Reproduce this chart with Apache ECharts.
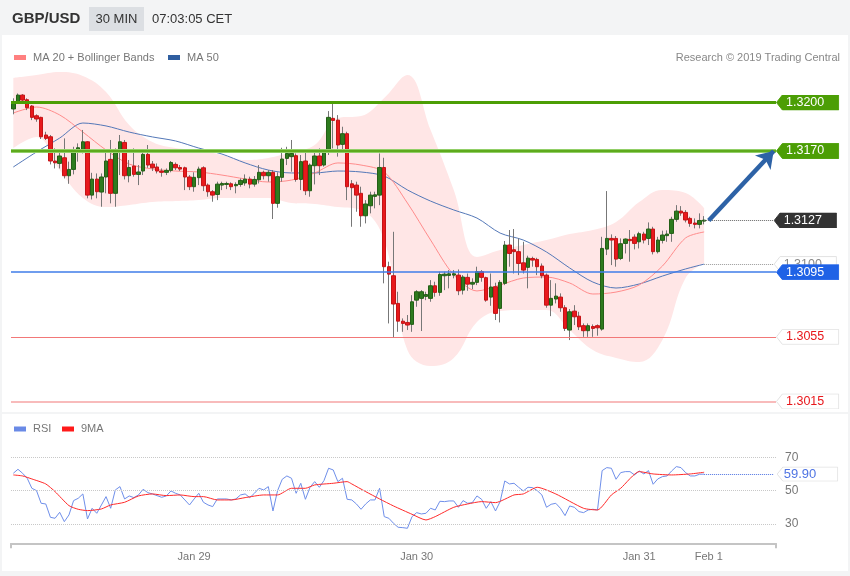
<!DOCTYPE html>
<html><head><meta charset="utf-8">
<script src="https://cdn.jsdelivr.net/npm/echarts@6/dist/echarts.min.js"></script>
<style>html,body{margin:0;padding:0;background:#f3f4f5;}#c{width:850px;height:576px;}</style>
</head><body><div id="c"></div>
<script>
// ---------- DATA ----------
const categories = Array.from({length: 165}, (_, i) => 'b' + i);
const tickLabels = {39: 'Jan 29', 87: 'Jan 30', 135: 'Jan 31', 150: 'Feb 1'};

const opens = [1.31960,1.32005,1.32046,1.32017,1.31978,1.31918,1.31908,1.31799,1.31788,1.31638,
 1.31623,1.31658,1.31547,1.31586,1.31695,1.31706,1.31757,1.31427,1.31526,1.31446,
 1.31539,1.31648,1.31438,1.31706,1.31753,1.31547,1.31607,1.31555,1.31576,1.31679,
 1.31619,1.31601,1.31576,1.31568,1.31580,1.31617,1.31598,1.31596,1.31539,1.31479,
 1.31535,1.31596,1.31489,1.31448,1.31431,1.31489,1.31493,1.31497,1.31485,1.31493,
 1.31502,1.31526,1.31495,1.31522,1.31568,1.31547,1.31568,1.31376,1.31537,1.31654,
 1.31665,1.31671,1.31524,1.31638,1.31454,1.31609,1.31669,1.31613,1.31695,1.31902,
 1.31891,1.31741,1.31807,1.31497,1.31489,1.31438,1.31299,1.31361,1.31419,1.31427,
 1.31598,1.30984,1.30928,1.30757,1.30647,1.30639,1.30627,1.30777,1.30788,1.30800,
 1.30788,1.30866,1.30825,1.30928,1.30930,1.30932,1.30932,1.30839,1.30918,1.30876,
 1.30887,1.30953,1.30916,1.30796,1.30860,1.30726,1.30881,1.31118,1.31089,1.31077,
 1.31008,1.30980,1.31035,1.31029,1.30988,1.30932,1.30746,1.30784,1.30796,1.30730,
 1.30592,1.30709,1.30678,1.30619,1.30588,1.30614,1.30619,1.30598,1.31093,1.31159,
 1.31159,1.31035,1.31128,1.31153,1.31167,1.31138,1.31186,1.31159,1.31217,1.31077,
 1.31147,1.31176,1.31190,1.31277,1.31328,1.31320,1.31283,1.31254,1.31246,1.31266];
const closes = [1.31995,1.32046,1.32015,1.31968,1.31908,1.31898,1.31788,1.31778,1.31638,1.31627,
 1.31669,1.31547,1.31586,1.31695,1.31720,1.31757,1.31427,1.31526,1.31448,1.31539,
 1.31638,1.31438,1.31695,1.31757,1.31547,1.31598,1.31555,1.31570,1.31679,1.31613,
 1.31596,1.31576,1.31568,1.31580,1.31629,1.31596,1.31588,1.31539,1.31479,1.31537,
 1.31588,1.31485,1.31448,1.31427,1.31495,1.31499,1.31499,1.31479,1.31493,1.31518,
 1.31526,1.31495,1.31524,1.31568,1.31547,1.31568,1.31376,1.31541,1.31650,1.31685,
 1.31685,1.31524,1.31634,1.31454,1.31613,1.31669,1.31609,1.31695,1.31908,1.31889,
 1.31737,1.31807,1.31479,1.31473,1.31427,1.31299,1.31372,1.31427,1.31429,1.31598,
 1.30984,1.30938,1.30753,1.30647,1.30633,1.30623,1.30767,1.30829,1.30829,1.30812,
 1.30866,1.30825,1.30936,1.30938,1.30940,1.30940,1.30835,1.30920,1.30876,1.30887,
 1.30953,1.30918,1.30777,1.30858,1.30695,1.30887,1.31118,1.31066,1.31077,1.31004,
 1.30963,1.31037,1.31025,1.30984,1.30928,1.30746,1.30788,1.30802,1.30730,1.30602,
 1.30705,1.30674,1.30612,1.30588,1.30619,1.30602,1.30606,1.31097,1.31159,1.31149,
 1.31031,1.31126,1.31155,1.31145,1.31128,1.31188,1.31149,1.31217,1.31077,1.31149,
 1.31180,1.31186,1.31277,1.31328,1.31316,1.31273,1.31252,1.31246,1.31270,1.31272];
const lows = [1.31927,1.31995,1.32009,1.31953,1.31891,1.31881,1.31774,1.31768,1.31617,1.31592,
 1.31592,1.31530,1.31497,1.31555,1.31634,1.31685,1.31407,1.31400,1.31407,1.31355,
 1.31438,1.31376,1.31355,1.31551,1.31524,1.31506,1.31541,1.31489,1.31551,1.31596,
 1.31576,1.31561,1.31541,1.31551,1.31568,1.31582,1.31576,1.31458,1.31458,1.31448,
 1.31489,1.31452,1.31417,1.31386,1.31396,1.31458,1.31464,1.31458,1.31438,1.31479,
 1.31485,1.31469,1.31479,1.31499,1.31524,1.31510,1.31279,1.31349,1.31510,1.31613,
 1.31572,1.31510,1.31458,1.31427,1.31417,1.31493,1.31551,1.31603,1.31675,1.31716,
 1.31665,1.31706,1.31396,1.31231,1.31324,1.31231,1.31252,1.31314,1.31345,1.31365,
 1.30881,1.30633,1.30544,1.30581,1.30581,1.30592,1.30581,1.30736,1.30586,1.30777,
 1.30767,1.30798,1.30804,1.30839,1.30850,1.30912,1.30808,1.30812,1.30835,1.30845,
 1.30870,1.30891,1.30767,1.30742,1.30654,1.30639,1.30870,1.30984,1.30942,1.30932,
 1.30942,1.30850,1.30984,1.30932,1.30912,1.30730,1.30678,1.30757,1.30705,1.30586,
 1.30530,1.30623,1.30592,1.30550,1.30550,1.30550,1.30557,1.30588,1.31056,1.30994,
 1.30984,1.31025,1.31066,1.31015,1.31091,1.31097,1.31128,1.31118,1.31060,1.31066,
 1.31128,1.31138,1.31138,1.31262,1.31299,1.31258,1.31231,1.31221,1.31221,1.31246];
const highs = [1.32026,1.32056,1.32052,1.32026,1.31984,1.31927,1.31912,1.31819,1.31799,1.31716,
 1.31706,1.31778,1.31634,1.31726,1.31747,1.31830,1.31761,1.31565,1.31561,1.31561,
 1.31695,1.31768,1.31716,1.31799,1.31768,1.31644,1.31716,1.31613,1.31695,1.31737,
 1.31638,1.31623,1.31592,1.31592,1.31638,1.31629,1.31613,1.31603,1.31551,1.31568,
 1.31603,1.31605,1.31499,1.31458,1.31510,1.31510,1.31510,1.31506,1.31506,1.31530,
 1.31555,1.31541,1.31545,1.31613,1.31578,1.31582,1.31582,1.31568,1.31720,1.31726,
 1.31768,1.31685,1.31675,1.31691,1.31623,1.31695,1.31716,1.31706,1.31947,1.31995,
 1.31922,1.31850,1.31819,1.31520,1.31510,1.31479,1.31396,1.31448,1.31448,1.31685,
 1.31658,1.31015,1.31200,1.30829,1.30664,1.30685,1.30808,1.30839,1.30839,1.30829,
 1.30901,1.30891,1.30953,1.30953,1.30963,1.30963,1.30967,1.30932,1.30942,1.30912,
 1.30984,1.30963,1.30922,1.30942,1.30885,1.30901,1.31143,1.31211,1.31217,1.31159,
 1.31138,1.31052,1.31046,1.31039,1.31004,1.30942,1.30901,1.30881,1.30819,1.30746,
 1.30722,1.30746,1.30705,1.30633,1.30633,1.30627,1.30627,1.31169,1.31452,1.31184,
 1.31174,1.31159,1.31159,1.31211,1.31184,1.31200,1.31200,1.31258,1.31231,1.31169,
 1.31207,1.31209,1.31293,1.31365,1.31359,1.31334,1.31293,1.31283,1.31314,1.31297];

// indicator values read every 5 bars
const indIdx = [0,5,10,15,20,25,30,35,40,45,50,55,60,65,70,75,80,85,90,95,100,105,110,115,120,125,130,135,140,145,149];
const ma20 = [1.31935,1.31972,1.31923,1.31817,1.31706,1.31619,1.31589,1.31576,1.31570,1.31551,1.31527,1.31508,1.31520,1.31564,1.31626,1.31613,1.31570,1.31378,1.31149,1.30933,1.30834,1.30871,1.30914,1.30920,1.30883,1.30815,1.30827,1.30871,1.30988,1.31162,1.31199];
const ma50 = [1.31601,1.31694,1.31780,1.31873,1.31855,1.31817,1.31787,1.31762,1.31718,1.31681,1.31626,1.31582,1.31564,1.31564,1.31576,1.31570,1.31545,1.31459,1.31390,1.31335,1.31285,1.31192,1.31149,1.31075,1.30976,1.30889,1.30852,1.30877,1.30926,1.30970,1.31000];
const bbUpper = [1.32152,1.32170,1.32189,1.32164,1.32065,1.31861,1.31756,1.31718,1.31706,1.31675,1.31644,1.31657,1.31694,1.31737,1.31904,1.31916,1.32028,1.32170,1.31830,1.31459,1.31044,1.31087,1.31118,1.31149,1.31186,1.31211,1.31261,1.31384,1.31459,1.31440,1.31347];
const bbLower = [1.31718,1.31787,1.31582,1.31409,1.31353,1.31366,1.31384,1.31390,1.31397,1.31409,1.31409,1.31409,1.31378,1.31372,1.31353,1.31335,1.31149,1.30468,1.30369,1.30419,1.30642,1.30710,1.30716,1.30716,1.30592,1.30468,1.30419,1.30394,1.30530,1.30914,1.31007];

const rsi = [60.4,62.8,60.4,57.4,51.4,50,42.4,42,34,33.4,37,31.4,35.4,44,45.4,48,33,39.4,36.4,41.4,
 46.4,39.4,50.4,52.4,45,46.8,45.8,47.4,50.8,48.8,48,47,46,46.8,49.8,48.4,47.4,44.4,41.4,45,
 48.4,43,41.4,40.4,45,45,45,44.4,45,47.4,48,45.8,48.4,51.4,50.4,52.4,37.8,50,56.8,58.8,
 57.4,48.4,54.4,44.8,52,55.4,52,56,63.4,62.4,55.4,57.4,44.8,44.4,42,38.8,42,44.4,44.4,51.4,
 34.4,33.4,30.4,28,27.8,27.4,34.4,36.8,36,36.4,39.4,38.4,43.6,43.4,43.8,43.8,40,44,42.4,42.8,
 46.8,44.8,39.4,43.4,37.8,43.4,55.8,54,54.4,52,49.8,52,51.8,50,47.4,40,41.8,42.4,39.4,35,
 40.8,40,37.4,36.8,38.4,38.8,38.4,62,63.8,63.4,56.8,60.8,61.4,61.4,59.4,61.8,60,62,53.8,57,
 58.4,58.8,61.8,64.4,63.8,60.8,58.8,58.8,59.8,59.9];
const rsiMaIdx = [0,2,4,7,9,12,14,16,19,21,24,27,30,33,36,39,41,44,47,50,54,57,60,63,65,69,72,73,76,79,82,86,89,91,95,98,101,104,108,110,113,117,123,126,129,131,135,138,142,146,149];
const rsiMa = [59.4,58.8,57,54,49.4,41,38.8,38,39,41.4,43,46.8,48,47,47.4,46.4,46.4,44.4,44.4,45.8,47.4,47.4,51.4,51.4,53.4,54.4,55.4,54,49.4,45,40.8,35.8,32.4,34.4,40,42,43.4,42.8,47.4,48,52,48,39.4,38.4,47.4,51.4,61.4,60,59.4,60,61];
const rsiLevels = [30, 50, 70];
const rsiLast = 59.90;

const resistance = [1.3200, 1.3170];
const lastPrice = 1.3127;
const ma50Last = 1.3100;
const pivot = 1.3095;
const supports = [1.3055, 1.3015];
const arrowFrom = [150, 1.3127];
const arrowTo = [164, 1.3170];

// ---------- CHART ----------
const FONT = "'Liberation Sans', Arial, sans-serif";
function tagImg(fill, stroke) {
  const svg = "<svg xmlns='http://www.w3.org/2000/svg' width='64' height='18' viewBox='0 0 64 18' preserveAspectRatio='none'>" +
    "<polygon points='0.5,9 6.5,0.5 63.5,0.5 63.5,17.5 6.5,17.5' fill='" + fill + "' stroke='" + (stroke || fill) + "' stroke-width='1'/></svg>";
  return 'data:image/svg+xml;charset=utf-8,' + encodeURIComponent(svg);
}
function tag(text, bg, color, stroke) {
  return {
    show: true, position: 'end', distance: 0, formatter: text,
    color: color, fontSize: 12.5, fontFamily: FONT, lineHeight: 14,
    padding: [1, 15, 1, 10],
    backgroundColor: {image: tagImg(bg, stroke)}
  };
}
const hide = {show: false};
const chart = echarts.init(document.getElementById('c'));
const wickData = opens.map((o, i) => [o, closes[i], lows[i], highs[i]]);
const bodyData = opens.map((o, i) => [o, closes[i], Math.min(o, closes[i]), Math.max(o, closes[i])]);
const pair = (idx, vals) => idx.map((x, k) => [x, vals[k]]);

function markSeries(item, grid, z) {
  return {
    type: 'line', xAxisIndex: grid, yAxisIndex: grid, data: [], z: z, silent: true,
    markLine: {silent: true, symbol: 'none', animation: false, precision: 6, data: [item]}
  };
}
function hline(v, style, label) {
  return {yAxis: v, lineStyle: Object.assign({type: 'solid'}, style), label: label || {show: false}};
}
function seg(fromIdx, toIdx, v, style, label) {
  return [{coord: [fromIdx, v], lineStyle: style, label: label}, {coord: [toIdx, v]}];
}
const rsiLbl = (t) => ({show: true, position: 'end', distance: 9, formatter: t, color: '#777', fontSize: 12, fontFamily: FONT});

const levelSeries = [
  markSeries(hline(supports[1], {color: '#f6a5a5', width: 1.5}, tag('1.3015', '#ffffff', '#e8171b', '#e0e0e0')), 0, 5),
  markSeries(hline(supports[0], {color: '#f27878', width: 1}, tag('1.3055', '#ffffff', '#e8171b', '#e0e0e0')), 0, 5),
  markSeries(seg(149, 164, ma50Last, {color: '#9a9a9a', width: 1, type: 'dotted'}, tag('1.3100', '#ffffff', '#888888', '#e0e0e0')), 0, 5),
  markSeries(hline(pivot, {color: '#3f7de8', width: 1.5}, tag('1.3095', '#1f62e6', '#ffffff')), 0, 6),
  markSeries(seg(149, 164, lastPrice, {color: '#666', width: 1, type: 'dotted'}, tag('1.3127', '#333333', '#ffffff')), 0, 6),
  markSeries(hline(resistance[1], {color: '#92cf68', width: 4}, tag('1.3170', '#4c9e05', '#ffffff')), 0, 6),
  markSeries(hline(resistance[1], {color: '#4c9e05', width: 1.5}), 0, 6),
  markSeries(hline(resistance[0], {color: '#4c9e05', width: 3}, tag('1.3200', '#4c9e05', '#ffffff')), 0, 6),
  markSeries([{coord: arrowFrom}, {coord: arrowTo}], 0, 7),
  markSeries(hline(rsiLevels[0], {color: '#c8c8c8', width: 1, type: 'dotted'}, rsiLbl('30')), 1, 2),
  markSeries(hline(rsiLevels[1], {color: '#c8c8c8', width: 1, type: 'dotted'}, rsiLbl('50')), 1, 2),
  markSeries(hline(rsiLevels[2], {color: '#c8c8c8', width: 1, type: 'dotted'}, rsiLbl('70')), 1, 2),
  markSeries(seg(149, 164, rsiLast, {color: '#4f74e3', width: 1, type: 'dotted'},
    Object.assign(tag(rsiLast.toFixed(2), '#ffffff', '#4f74e3', '#e0e0e0'), {distance: 3, fontSize: 13, lineHeight: 13, padding: [1, 22, 1, 7]})), 1, 5)
];
// arrow style
levelSeries[8].markLine.symbol = ['none', 'arrow'];
levelSeries[8].markLine.symbolSize = 16;
levelSeries[8].markLine.lineStyle = {color: '#2d62a6', width: 4.5, type: 'solid'};
levelSeries[8].markLine.label = {show: false};

const option = {
  animation: false,
  backgroundColor: 'transparent',
  grid: [
    {left: 11, right: 74, top: 37.86, height: 371.7, outerBoundsMode: 'none'},
    {left: 11, right: 74, top: 440.6, height: 102.7, outerBoundsMode: 'none'}
  ],
  xAxis: [
    {type: 'category', gridIndex: 0, data: categories, boundaryGap: true, show: false},
    {type: 'category', gridIndex: 1, data: categories, boundaryGap: true,
     axisLine: {show: true, lineStyle: {color: '#c4c4c4', width: 2}},
     axisTick: {show: true, interval: (i) => i === 0, length: 5, lineStyle: {color: '#c4c4c4', width: 2}},
     axisLabel: {interval: 0, formatter: (v, i) => tickLabels[i] || '', color: '#777', fontSize: 11, fontFamily: FONT, margin: 8},
     splitLine: hide}
  ],
  yAxis: [
    {type: 'value', gridIndex: 0, min: 1.3010, max: 1.3240, show: false, scale: true},
    {type: 'value', gridIndex: 1, min: 18.4, max: 80, show: false}
  ],
  graphic: [
    {type: 'rect', shape: {x: 2, y: 35, width: 846, height: 377}, style: {fill: '#fff'}, z: -10, silent: true},
    {type: 'rect', shape: {x: 2, y: 414, width: 846, height: 157}, style: {fill: '#fff'}, z: -10, silent: true},
    {type: 'text', x: 12, y: 19, style: {text: 'GBP/USD', font: 'bold 15px ' + FONT, fill: '#333', verticalAlign: 'middle'}},
    {type: 'rect', shape: {x: 89, y: 7, width: 55, height: 24}, style: {fill: '#dcdfe3'}},
    {type: 'text', x: 116.5, y: 19, style: {text: '30 MIN', font: '13px ' + FONT, fill: '#333', align: 'center', verticalAlign: 'middle'}},
    {type: 'text', x: 152, y: 19, style: {text: '07:03:05 CET', font: '13px ' + FONT, fill: '#333', verticalAlign: 'middle'}},
    {type: 'rect', shape: {x: 14, y: 55, width: 12, height: 5}, style: {fill: '#ff8080'}},
    {type: 'text', x: 33, y: 57.5, style: {text: 'MA 20 + Bollinger Bands', font: '11px ' + FONT, fill: '#777', verticalAlign: 'middle'}},
    {type: 'rect', shape: {x: 168, y: 55, width: 12, height: 5}, style: {fill: '#2f5ea0'}},
    {type: 'text', x: 187, y: 57.5, style: {text: 'MA 50', font: '11px ' + FONT, fill: '#777', verticalAlign: 'middle'}},
    {type: 'text', x: 840, y: 57.5, style: {text: 'Research \u00a9 2019 Trading Central', font: '11px ' + FONT, fill: '#888', align: 'right', verticalAlign: 'middle'}},
    {type: 'rect', shape: {x: 14, y: 426.5, width: 12, height: 5}, style: {fill: '#6a8ae6'}},
    {type: 'text', x: 33, y: 429, style: {text: 'RSI', font: '11px ' + FONT, fill: '#777', verticalAlign: 'middle'}},
    {type: 'rect', shape: {x: 62, y: 426.5, width: 12, height: 5}, style: {fill: '#ff1a1a'}},
    {type: 'text', x: 81, y: 429, style: {text: '9MA', font: '11px ' + FONT, fill: '#777', verticalAlign: 'middle'}}
  ],
  series: [
    {type: 'line', name: 'bbLow', xAxisIndex: 0, yAxisIndex: 0, data: pair(indIdx, bbLower), stack: 'bb',
     symbol: 'none', smooth: 0.4, lineStyle: {opacity: 0}, silent: true, z: 1},
    {type: 'line', name: 'bbBand', xAxisIndex: 0, yAxisIndex: 0, data: pair(indIdx, bbUpper.map((u, k) => u - bbLower[k])), stack: 'bb',
     symbol: 'none', smooth: 0.4, lineStyle: {opacity: 0}, areaStyle: {color: '#ffe6e6', opacity: 1}, silent: true, z: 1},
    {type: 'line', name: 'MA 50', xAxisIndex: 0, yAxisIndex: 0, data: pair(indIdx, ma50), symbol: 'none', smooth: 0.3,
     lineStyle: {color: '#5478b8', width: 1}, itemStyle: {color: '#2f5ea0'}, silent: true, z: 2},
    {type: 'line', name: 'MA 20 + Bollinger Bands', xAxisIndex: 0, yAxisIndex: 0, data: pair(indIdx, ma20), symbol: 'none', smooth: 0.3,
     lineStyle: {color: '#ff8c8c', width: 1}, itemStyle: {color: '#ff8080'}, silent: true, z: 2},
    {type: 'candlestick', name: 'wick', xAxisIndex: 0, yAxisIndex: 0, data: wickData, barWidth: 1,
     itemStyle: {color: '#777', color0: '#777', borderColor: '#777', borderColor0: '#777', borderWidth: 1}, silent: true, z: 3},
    {type: 'candlestick', name: 'GBP/USD', xAxisIndex: 0, yAxisIndex: 0, data: bodyData, barWidth: 4,
     itemStyle: {color: '#2e7b1e', color0: '#e8191c', borderColor: '#245f17', borderColor0: '#c41316', borderWidth: 1}, silent: true, z: 4},
    {type: 'line', name: 'RSI', xAxisIndex: 1, yAxisIndex: 1, data: rsi, symbol: 'none',
     lineStyle: {color: '#6f8fea', width: 1}, itemStyle: {color: '#6a8ae6'}, silent: true, z: 3},
    {type: 'line', name: '9MA', xAxisIndex: 1, yAxisIndex: 1, data: pair(rsiMaIdx, rsiMa), symbol: 'none', smooth: 0.2,
     lineStyle: {color: '#ff2a2a', width: 1}, itemStyle: {color: '#ff1a1a'}, silent: true, z: 4}
  ].concat(levelSeries)
};
chart.setOption(option);
</script>
</body></html>
